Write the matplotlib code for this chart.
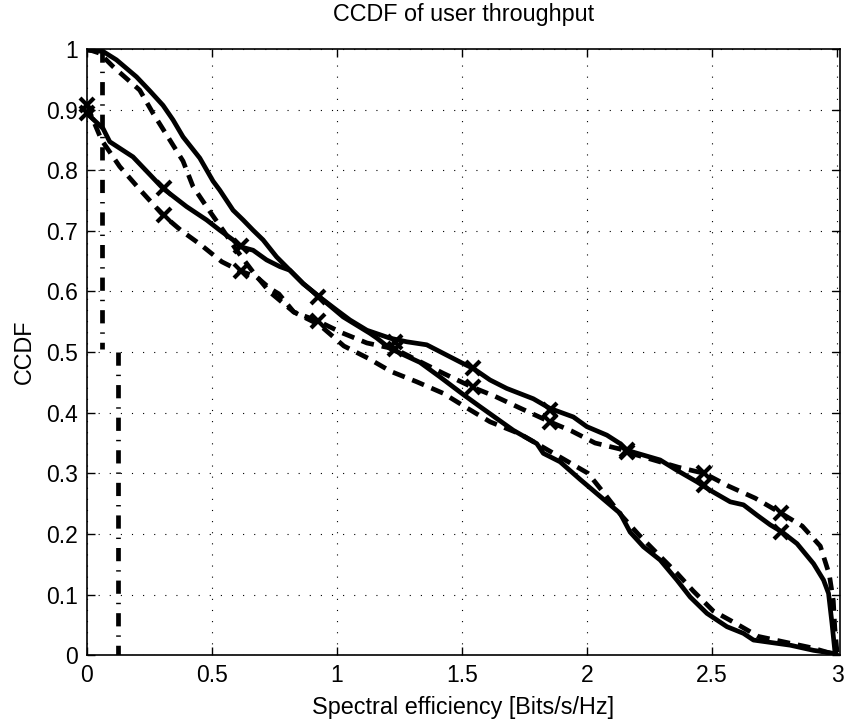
import matplotlib
matplotlib.use('Agg')
import matplotlib.pyplot as plt
import numpy as np

plt.rcParams['font.family'] = ['Liberation Sans', 'DejaVu Sans']

# solid curve without markers
s1_x = [0, 0.065, 0.119, 0.199, 0.252, 0.305, 0.345, 0.385, 0.452, 0.505, 0.532, 0.585, 0.625,
        0.665, 0.705, 0.759, 0.812, 0.865, 0.93, 1.025, 1.132, 1.16, 1.212, 1.332, 1.412, 1.505,
        1.572, 1.705, 1.799, 1.825, 1.892, 1.972, 2.052, 2.132, 2.172, 2.225, 2.292, 2.359, 2.412,
        2.479, 2.559, 2.625, 2.665, 2.812, 2.905, 2.985, 3.0]
s1_y = [0.998, 0.996, 0.982, 0.954, 0.931, 0.907, 0.883, 0.855, 0.82, 0.782, 0.767, 0.734, 0.718,
        0.701, 0.685, 0.657, 0.635, 0.613, 0.591, 0.558, 0.531, 0.523, 0.506, 0.483, 0.459, 0.43,
        0.41, 0.371, 0.349, 0.333, 0.319, 0.29, 0.262, 0.234, 0.203, 0.179, 0.157, 0.124, 0.096,
        0.069, 0.047, 0.036, 0.025, 0.0165, 0.008, 0.003, 0.0]

# dashed curve without markers
d1_x = [0, 0.052, 0.105, 0.212, 0.265, 0.332, 0.385, 0.425, 0.492, 0.545, 0.599, 0.665, 0.732,
        0.828, 0.93, 1.028, 1.124, 1.216, 1.319, 1.425, 1.519, 1.612, 1.732, 1.912, 2.004, 2.072,
        2.136, 2.208, 2.28, 2.36, 2.424, 2.504, 2.592, 2.684, 2.9, 3.0]
d1_y = [1.0, 0.993, 0.971, 0.932, 0.894, 0.85, 0.815, 0.773, 0.732, 0.701, 0.668, 0.632, 0.599,
        0.566, 0.545, 0.51, 0.49, 0.468, 0.451, 0.432, 0.408, 0.385, 0.365, 0.322, 0.300, 0.265,
        0.231, 0.198, 0.168, 0.135, 0.106, 0.073, 0.053, 0.031, 0.012, 0.0]

# solid curve with x markers
m1_x = [0, 0.065, 0.092, 0.185, 0.305, 0.399, 0.479, 0.532, 0.585, 0.612, 0.665, 0.719, 0.772,
        0.812, 0.865, 0.93, 1.0, 1.052, 1.12, 1.212, 1.279, 1.359, 1.439, 1.505, 1.545, 1.612,
        1.679, 1.785, 1.852, 1.945, 1.999, 2.079, 2.132, 2.159, 2.292, 2.359, 2.439, 2.492, 2.572,
        2.625, 2.679, 2.732, 2.78, 2.839, 2.905, 2.945, 2.965, 2.979, 2.992]
m1_y = [0.894, 0.869, 0.847, 0.822, 0.770, 0.740, 0.718, 0.701, 0.685, 0.674, 0.668, 0.652, 0.641,
        0.635, 0.613, 0.591, 0.569, 0.553, 0.536, 0.523, 0.517, 0.512, 0.495, 0.481, 0.473, 0.454,
        0.440, 0.423, 0.407, 0.393, 0.377, 0.363, 0.349, 0.338, 0.322, 0.305, 0.286, 0.272, 0.253,
        0.248, 0.231, 0.215, 0.203, 0.184, 0.151, 0.124, 0.102, 0.052, 0.0]

# dashed curve with x markers
m2_x = [0, 0.059, 0.132, 0.219, 0.305, 0.379, 0.456, 0.54, 0.612, 0.679, 0.732, 0.768, 0.828,
        0.925, 1.019, 1.12, 1.232, 1.425, 1.542, 1.632, 1.725, 1.851, 1.937, 2.032, 2.132, 2.159,
        2.365, 2.468, 2.565, 2.672, 2.776, 2.86, 2.932, 2.968, 2.984, 2.99, 3.0]
m2_y = [0.908, 0.85, 0.806, 0.765, 0.726, 0.70, 0.677, 0.649, 0.634, 0.624, 0.605, 0.596, 0.566,
        0.551, 0.532, 0.515, 0.505, 0.465, 0.442, 0.427, 0.409, 0.385, 0.37, 0.35, 0.34, 0.335,
        0.31, 0.30, 0.279, 0.259, 0.234, 0.213, 0.18, 0.133, 0.09, 0.045, 0.0]

# marker positions
mark_x = [0, 0.308, 0.617, 0.925, 1.234, 1.542, 1.851, 2.159, 2.468, 2.776]
mark1_y = [0.894, 0.770, 0.675, 0.591, 0.517, 0.473, 0.405, 0.338, 0.28, 0.203]
mark2_y = [0.908, 0.726, 0.634, 0.551, 0.505, 0.442, 0.385, 0.335, 0.30, 0.234]

# dash-dot curve: two vertical drops
dd_upper_x = [0.06, 0.06]
dd_upper_y = [1.0, 0.505]
dd_lower_x = [0.125, 0.125]
dd_lower_y = [0.5, 0.0]

xticks = [0, 0.5, 1, 1.5, 2, 2.5, 3]
yticks = [0, 0.1, 0.2, 0.3, 0.4, 0.5, 0.6, 0.7, 0.8, 0.9, 1]

fig = plt.figure(figsize=(8.5, 7.2), dpi=100)
ax = fig.add_axes([0.102, 0.09, 0.886, 0.842])

lw = 3.4
dash = (0, (2.7, 1.7))
dashdot = (0, (2.8, 1.9, 0.3, 1.9))
ax.plot(s1_x, s1_y, color='k', lw=lw, solid_joinstyle='round')
ax.plot(d1_x, d1_y, color='k', lw=lw, linestyle=dash)
ax.plot(m1_x, m1_y, color='k', lw=lw, solid_joinstyle='round')
ax.plot(m2_x, m2_y, color='k', lw=lw, linestyle=dash)
ax.plot(mark_x, mark1_y, linestyle='none', marker='x', color='k', ms=10, mew=3, clip_on=False)
ax.plot(mark_x, mark2_y, linestyle='none', marker='x', color='k', ms=10, mew=3, clip_on=False)
ax.plot(dd_upper_x, dd_upper_y, color='k', lw=lw, linestyle=dashdot)
ax.plot(dd_lower_x, dd_lower_y, color='k', lw=lw, linestyle=dashdot)

ax.set_xlim(0, 3.01)
ax.set_ylim(0, 1)
ax.set_xticks(xticks)
ax.set_xticklabels(['0', '0.5', '1', '1.5', '2', '2.5', '3'])
ax.set_yticks(yticks)
ax.set_yticklabels(['0', '0.1', '0.2', '0.3', '0.4', '0.5', '0.6', '0.7', '0.8', '0.9', '1'])
ax.grid(True, color='k', linestyle=(0, (1, 9)), linewidth=0.8)
ax.tick_params(direction='in', top=True, right=True, length=6, width=1, labelsize=16.5, pad=6)
for sp in ax.spines.values():
    sp.set_linewidth(1.2)

ax.set_title('CCDF of user throughput', fontsize=16.8, pad=20)
ax.set_xlabel('Spectral efficiency [Bits/s/Hz]', fontsize=16.8, labelpad=7)
ax.set_ylabel('CCDF', fontsize=16.8, labelpad=8)

plt.savefig('out.png', dpi=100)
